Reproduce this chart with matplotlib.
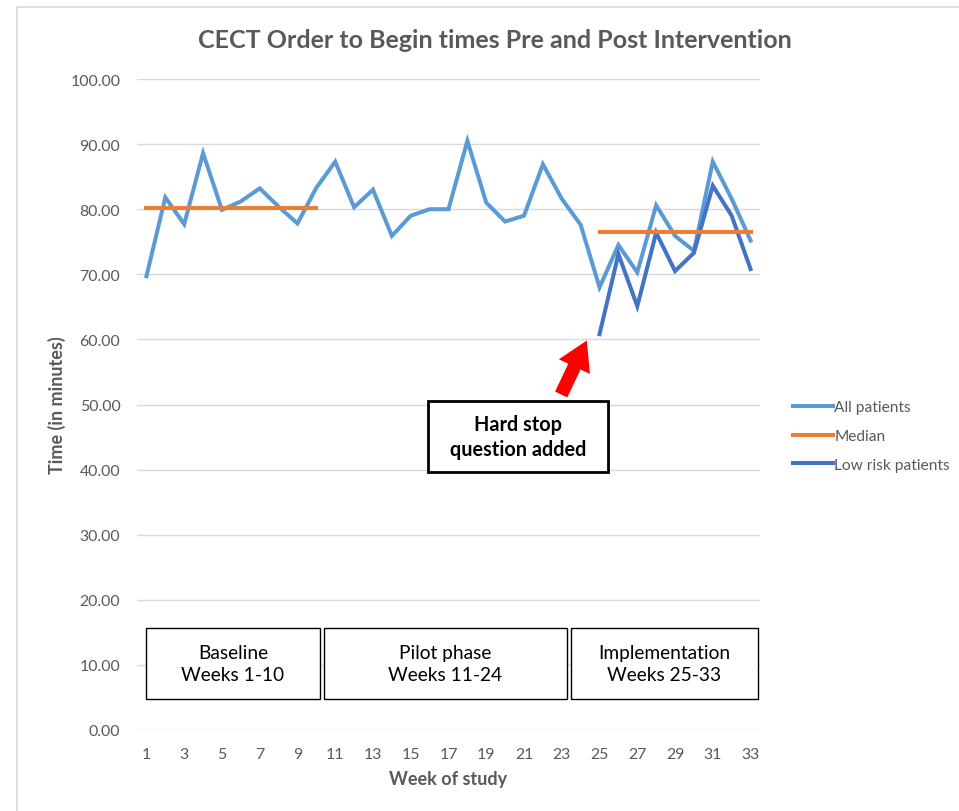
import numpy as np
import matplotlib.pyplot as plt
from matplotlib.patches import Rectangle, FancyArrowPatch

plt.rcParams['font.family'] = ['Lato', 'DejaVu Sans']

# data
weeks = list(range(1, 34))
all_patients = [69.7, 81.8, 77.7, 88.6, 79.9, 81.2, 83.2, 80.4, 77.8, 83.3,
                87.3, 80.3, 83.0, 75.9, 79.0, 80.0, 80.0, 90.5, 81.0, 78.1,
                79.0, 86.9, 81.6, 77.6, 68.0, 74.5, 70.3, 80.6, 75.9, 73.6,
                87.3, 81.6, 75.2]
low_risk_weeks = list(range(25, 34))
low_risk = [60.8, 73.1, 65.1, 76.4, 70.5, 73.3, 83.6, 79.0, 70.8]
median_pre_weeks = list(range(1, 11))
median_pre = [80.25] * 10
median_post_weeks = list(range(25, 34))
median_post = [76.45] * 9
phase_labels = ['Baseline\nWeeks 1-10', 'Pilot phase\nWeeks 11-24',
                'Implementation\nWeeks 25-33']

C_ALL = '#5B9BD5'
C_MED = '#ED7D31'
C_LOW = '#4472C4'
GREY = '#595959'

fig = plt.figure(figsize=(9.59, 8.12), dpi=100)
ax = fig.add_axes([137 / 959, 1 - 731 / 812, 623 / 959, 651 / 812])

# chart border (cut off at right/bottom like the screenshot)
fig.add_artist(Rectangle((17 / 959, -0.1), 1.2, 1.1 - 8 / 812,
                         transform=fig.transFigure, fill=False,
                         edgecolor='#d9d9d9', lw=1.2))

ax.plot(weeks, all_patients, color=C_ALL, lw=2.9, label='All patients',
        solid_joinstyle='miter', zorder=3)
ax.plot(median_pre_weeks, median_pre, color=C_MED, lw=2.9,
        label='Median', zorder=4)
ax.plot(median_post_weeks, median_post, color=C_MED, lw=2.9, zorder=4)
ax.plot(low_risk_weeks, low_risk, color=C_LOW, lw=2.9,
        label='Low risk patients', solid_joinstyle='miter', zorder=3)

ax.set_xlim(0.5, 33.5)
ax.set_ylim(0, 100)
ax.set_yticks(np.arange(0, 101, 10))
ax.set_yticklabels(['%.2f' % v for v in np.arange(0, 101, 10)])
ax.set_xticks(weeks[::2])
ax.tick_params(length=0, colors=GREY, labelsize=11.4)
ax.tick_params(axis='y', pad=12)
ax.tick_params(axis='x', pad=12)
ax.grid(axis='y', color='#d9d9d9', lw=1)
ax.set_axisbelow(True)
for s in ax.spines.values():
    s.set_visible(False)

ax.set_ylabel('Time (in minutes)', fontsize=13, fontweight='bold',
              color=GREY, labelpad=3)
ax.set_xlabel('Week of study', fontsize=13, fontweight='bold',
              color=GREY, labelpad=7)
fig.text(495 / 959, 1 - 41 / 812,
         'CECT Order to Begin times Pre and Post Intervention',
         ha='center', va='center', fontsize=18, fontweight='bold',
         color=GREY)

# phase boxes (pixel layout converted to axes fraction)
boxes = [(146, 320), (324, 567), (571, 758)]
for (x0, x1), txt in zip(boxes, phase_labels):
    fx0 = (x0 - 137) / 623
    fx1 = (x1 - 137) / 623
    fy0 = (731 - 700) / 651
    fy1 = (731 - 629) / 651
    ax.add_patch(Rectangle((fx0, fy0), fx1 - fx0, fy1 - fy0,
                           transform=ax.transAxes, facecolor='white',
                           edgecolor='black', lw=1, zorder=5))
    ax.text((fx0 + fx1) / 2, (fy0 + fy1) / 2, txt, transform=ax.transAxes,
            ha='center', va='center', fontsize=13.8, color='black',
            linespacing=1.3, zorder=6)

# hard stop annotation
hx0, hx1 = (428 - 137) / 623, (608 - 137) / 623
hy0, hy1 = (731 - 473) / 651, (731 - 402) / 651
ax.add_patch(Rectangle((hx0, hy0), hx1 - hx0, hy1 - hy0,
                       transform=ax.transAxes, facecolor='white',
                       edgecolor='black', lw=2, zorder=5))
ax.text((hx0 + hx1) / 2, (hy0 + hy1) / 2, 'Hard stop\nquestion added',
        transform=ax.transAxes, ha='center', va='center', fontsize=14.3,
        fontweight='bold', color='black', linespacing=1.3, zorder=6)
arrow = FancyArrowPatch(((560 - 137) / 623, (731 - 398) / 651),
                        ((588 - 137) / 623, (731 - 339) / 651),
                        transform=ax.transAxes,
                        arrowstyle='simple,head_length=1.6,head_width=1.9,tail_width=0.75',
                        mutation_scale=13, color='#FF0000', lw=0, zorder=6)
ax.add_patch(arrow)

handles, labels = ax.get_legend_handles_labels()
fig.legend(handles, labels, loc='center left',
           bbox_to_anchor=(779 / 959, 1 - 437 / 812), frameon=False,
           fontsize=11.2, handlelength=2.6, handletextpad=0.05,
           labelspacing=0.95, labelcolor=GREY)

fig.savefig('out.png', dpi=100)
